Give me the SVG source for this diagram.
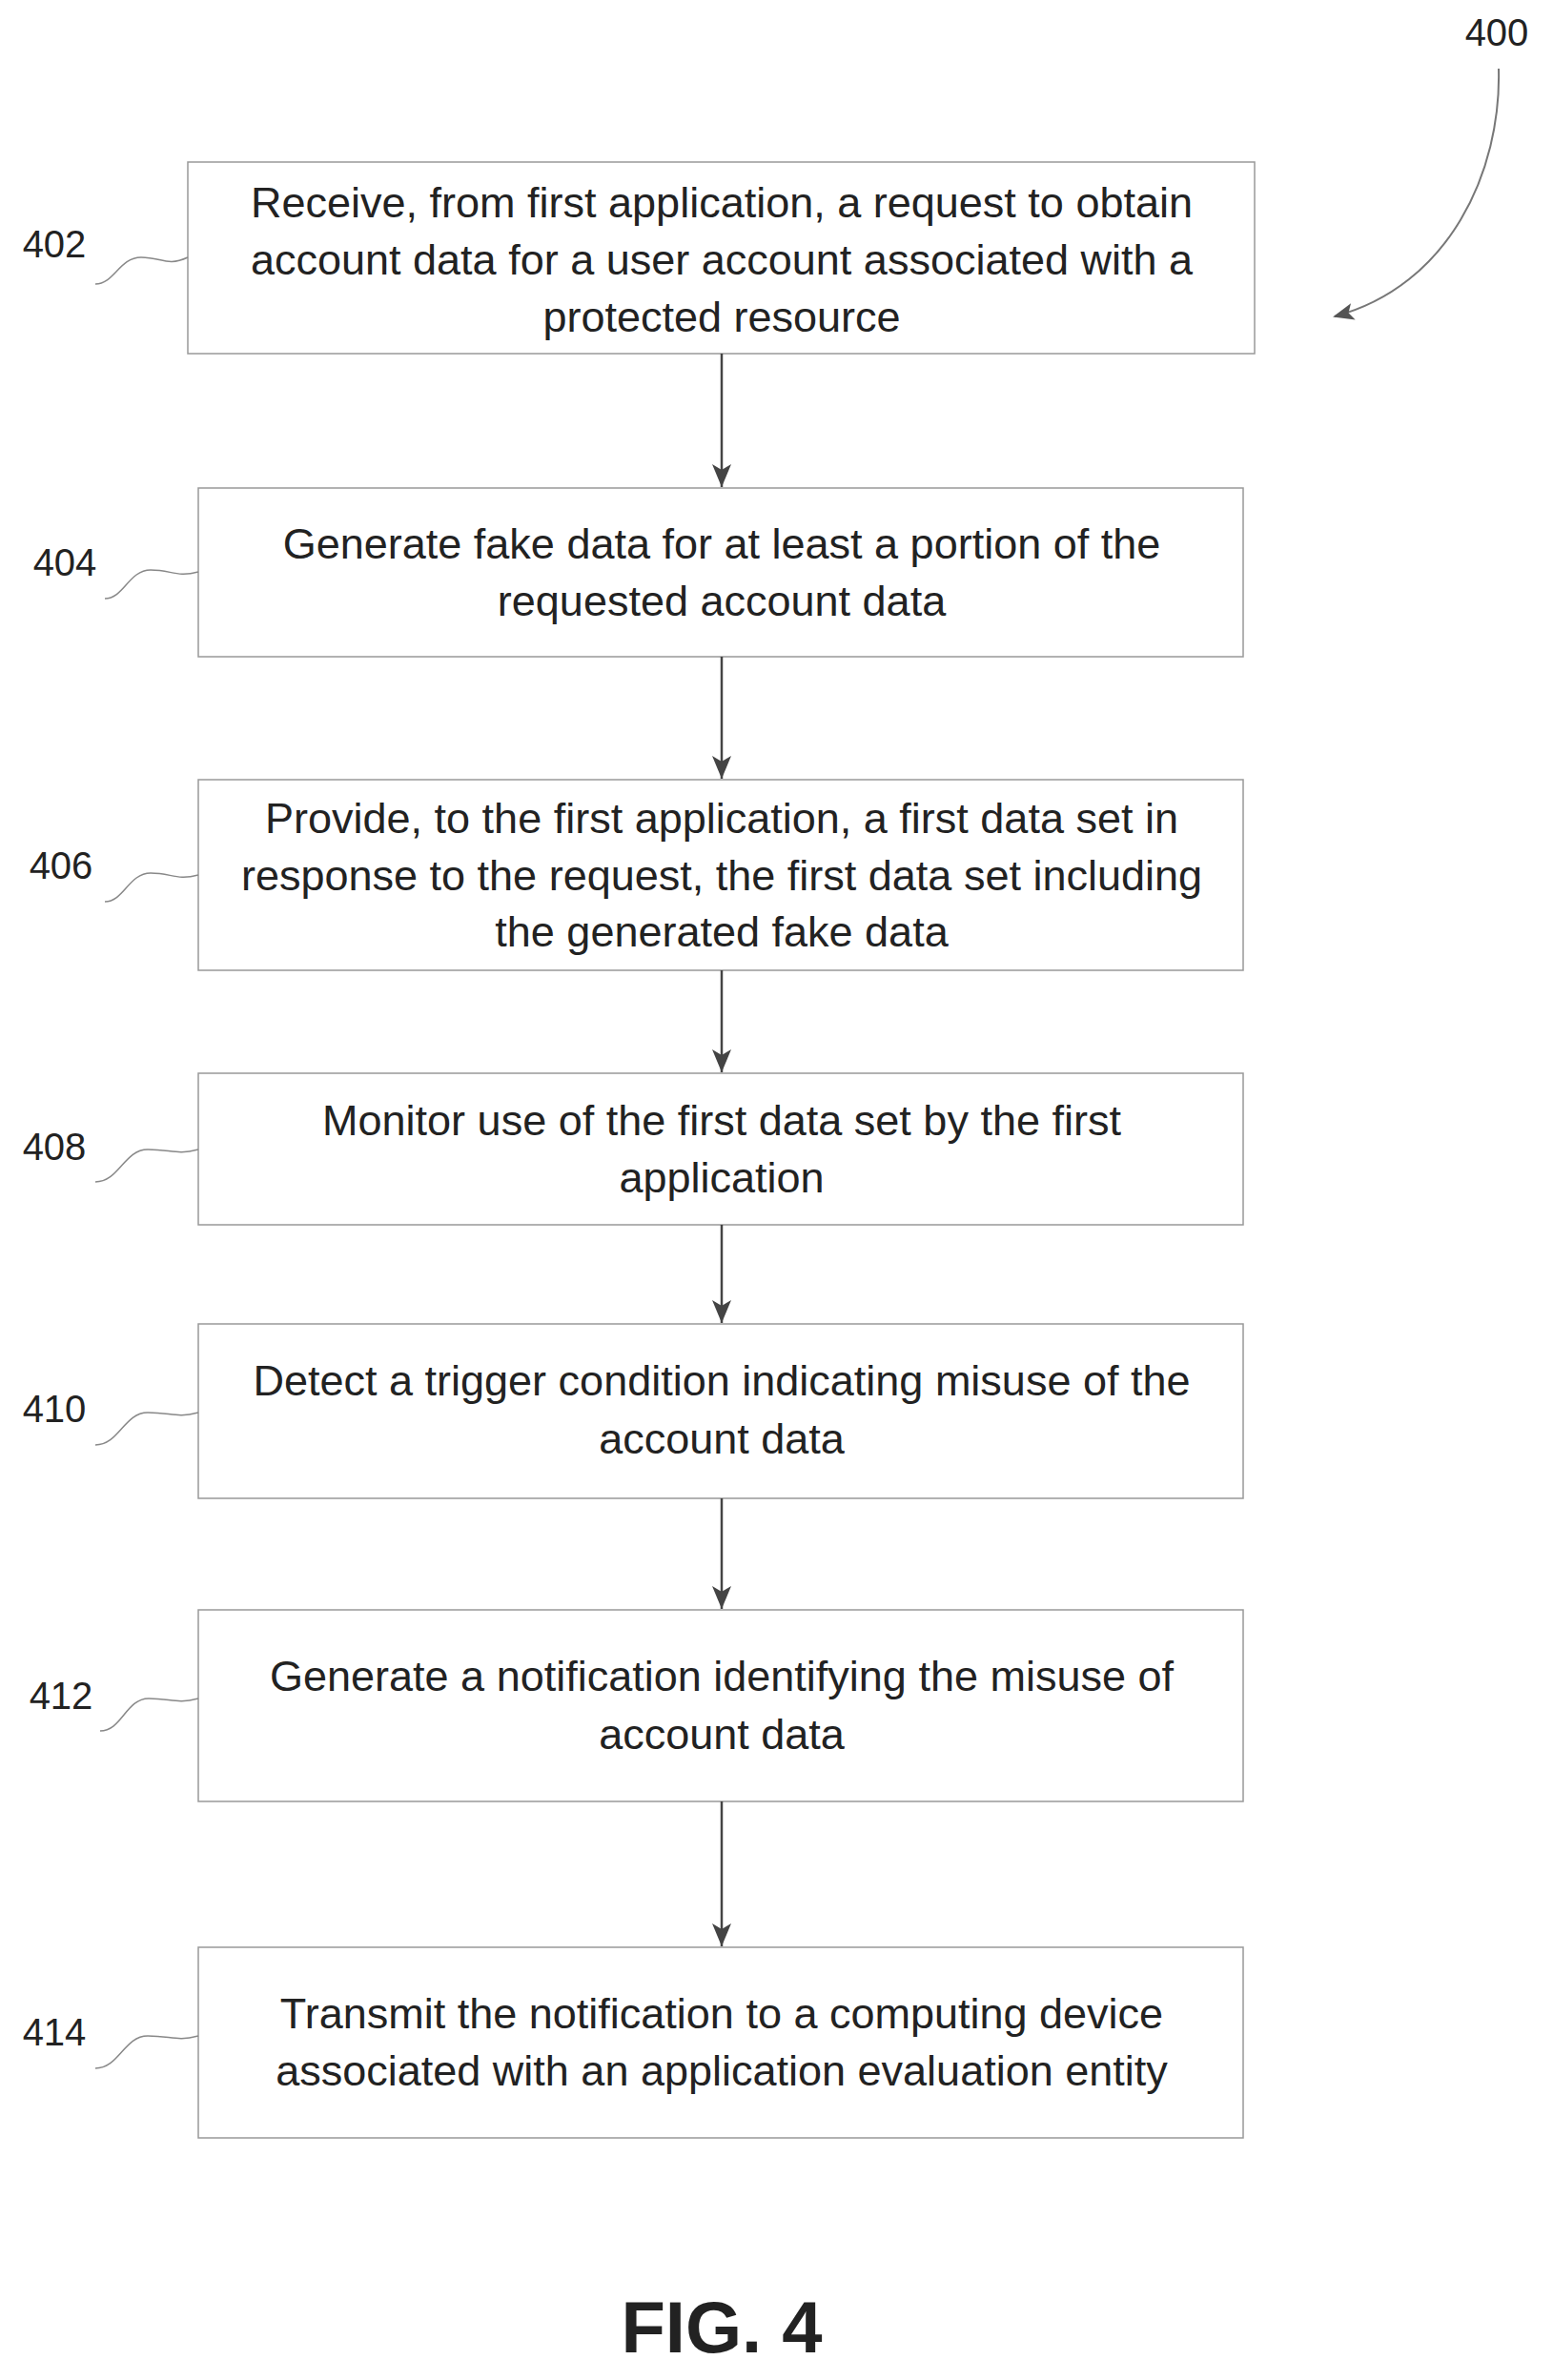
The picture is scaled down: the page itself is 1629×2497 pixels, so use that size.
<svg xmlns="http://www.w3.org/2000/svg" width="1629" height="2497" viewBox="0 0 1629 2497">
<style>
.box{fill:#fff;stroke:#999;stroke-width:1.5}
.t{font-family:"Liberation Sans",Arial,sans-serif;font-size:45px;fill:#222;text-anchor:middle}
.lbl{font-family:"Liberation Sans",Arial,sans-serif;font-size:40px;fill:#222;text-anchor:middle}
.w{fill:none;stroke:#888;stroke-width:1.5}
.c{stroke:#444;stroke-width:2.5;fill:none;marker-end:url(#a)}
</style>
<defs><marker id="a" markerWidth="20" markerHeight="24" refX="10" refY="24" orient="0" markerUnits="userSpaceOnUse"><path d="M0,0 L10,24 L20,0 L10,6 z" fill="#444"/></marker>
<marker id="b" markerWidth="22" markerHeight="18" refX="20" refY="9" orient="auto" markerUnits="userSpaceOnUse"><path d="M0,0 L22,9 L0,18 L5,9 z" fill="#555"/></marker></defs>
<rect width="1629" height="2497" fill="#fff"/>
<g id="n400"><text class="lbl" x="1570" y="48">400</text><path d="M1572,72 C1575,180 1520,300 1400,332" fill="none" stroke="#777" stroke-width="2" marker-end="url(#b)"/></g>
<g id="n402"><rect class="box" x="197" y="170" width="1119" height="201"/><text class="t"><tspan x="757" y="228">Receive, from first application, a request to obtain</tspan><tspan x="757" y="288">account data for a user account associated with a</tspan><tspan x="757" y="348">protected resource</tspan></text><text class="lbl" x="57" y="270">402</text><path class="w" d="M100,298 C120,298 125,270 148,270 C170,270 175,280 197,270"/></g>
<g id="n404"><rect class="box" x="208" y="512" width="1096" height="177"/><text class="t"><tspan x="757" y="586">Generate fake data for at least a portion of the</tspan><tspan x="757" y="646">requested account data</tspan></text><text class="lbl" x="68" y="604">404</text><path class="w" d="M110,628 C130,628 135,598 158,598 C180,598 185,606 208,600"/></g>
<g id="n406"><rect class="box" x="208" y="818" width="1096" height="200"/><text class="t"><tspan x="757" y="874">Provide, to the first application, a first data set in</tspan><tspan x="757" y="934">response to the request, the first data set including</tspan><tspan x="757" y="993">the generated fake data</tspan></text><text class="lbl" x="64" y="922">406</text><path class="w" d="M110,946 C130,946 135,916 158,916 C180,916 185,924 208,918"/></g>
<g id="n408"><rect class="box" x="208" y="1126" width="1096" height="159"/><text class="t"><tspan x="757" y="1191">Monitor use of the first data set by the first</tspan><tspan x="757" y="1251">application</tspan></text><text class="lbl" x="57" y="1217">408</text><path class="w" d="M100,1240 C125,1240 130,1206 155,1206 C180,1206 185,1212 208,1206"/></g>
<g id="n410"><rect class="box" x="208" y="1389" width="1096" height="183"/><text class="t"><tspan x="757" y="1464">Detect a trigger condition indicating misuse of the</tspan><tspan x="757" y="1525">account data</tspan></text><text class="lbl" x="57" y="1492">410</text><path class="w" d="M100,1516 C125,1516 130,1482 155,1482 C180,1482 185,1488 208,1482"/></g>
<g id="n412"><rect class="box" x="208" y="1689" width="1096" height="201"/><text class="t"><tspan x="757" y="1774">Generate a notification identifying the misuse of</tspan><tspan x="757" y="1835">account data</tspan></text><text class="lbl" x="64" y="1793">412</text><path class="w" d="M105,1816 C128,1816 132,1782 156,1782 C180,1782 185,1788 208,1782"/></g>
<g id="n414"><rect class="box" x="208" y="2043" width="1096" height="200"/><text class="t"><tspan x="757" y="2128">Transmit the notification to a computing device</tspan><tspan x="757" y="2188">associated with an application evaluation entity</tspan></text><text class="lbl" x="57" y="2146">414</text><path class="w" d="M100,2170 C125,2170 130,2136 155,2136 C180,2136 185,2142 208,2136"/></g>
<g id="connectors">
<path class="c" d="M757,371 V511"/><path class="c" d="M757,689 V817"/><path class="c" d="M757,1018 V1125"/><path class="c" d="M757,1285 V1388"/><path class="c" d="M757,1572 V1688"/><path class="c" d="M757,1890 V2042"/>
</g>
<text x="757" y="2468" font-family="Liberation Sans,Arial,sans-serif" font-size="76" font-weight="bold" text-anchor="middle" fill="#222">FIG. 4</text>
</svg>
